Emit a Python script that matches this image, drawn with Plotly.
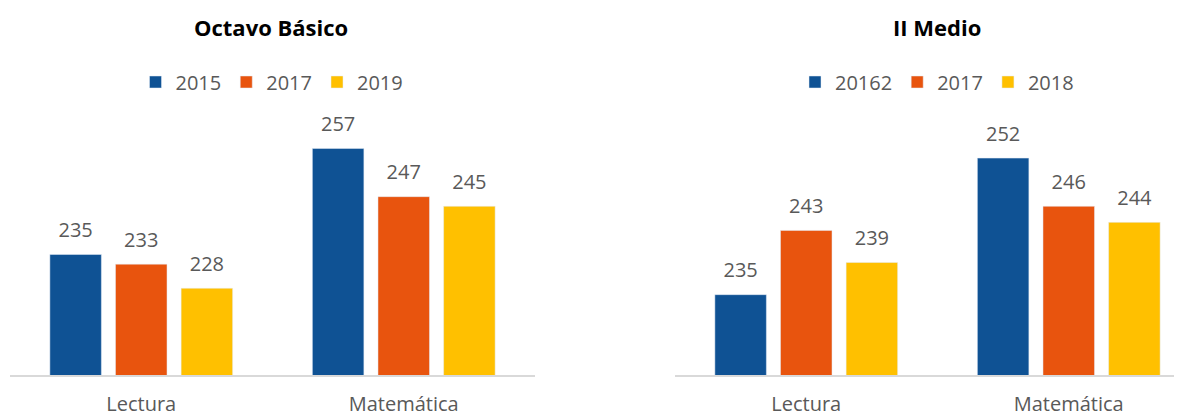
"""
Puntajes SIMCE: Octavo Básico y II Medio
"""
import plotly.graph_objects as go

W, H = 1182, 415

categorias = ['Lectura', 'Matemática']
colores = ['#0F5294', '#E8540E', '#FFC000']

# Octavo Básico
anios_8b = ['2015', '2017', '2019']
valores_8b = [[235, 257], [233, 247], [228, 245]]

# II Medio
anios_2m = ['20162', '2017', '2018']
valores_2m = [[235, 252], [243, 246], [239, 244]]

FUENTE = 'Open Sans'
GRIS = '#595959'

fig = go.Figure()


def agregar_panel(anios, valores, xa, ya, ley):
    for i, anio in enumerate(anios):
        fig.add_trace(go.Bar(
            x=categorias, y=valores[i], name=anio,
            marker_color=colores[i], xaxis=xa, yaxis=ya, legend=ley,
            offsetgroup=str(i),
        ))
        # etiquetas de datos como texto sobre cada barra
        fig.add_trace(go.Scatter(
            x=categorias, y=valores[i], mode='markers+text',
            text=[str(v) for v in valores[i]], textposition='top center',
            textfont=dict(size=20, color=GRIS, family=FUENTE),
            marker=dict(size=18, opacity=0), cliponaxis=False,
            offsetgroup=str(i), xaxis=xa, yaxis=ya,
            showlegend=False, hoverinfo='skip',
        ))


agregar_panel(anios_8b, valores_8b, 'x', 'y', 'legend')
agregar_panel(anios_2m, valores_2m, 'x2', 'y2', 'legend2')

# la pagina agrega 8 px de margen: posiciones en px de la figura
y_dom = [(H - 367) / H, (H - 126) / H]
eje_x = dict(showline=True, linecolor='#D9D9D9', linewidth=2, ticks='',
             showgrid=False, ticklabelstandoff=10,
             tickfont=dict(size=20, color=GRIS, family=FUENTE))
eje_y = dict(visible=False, showgrid=False, domain=y_dom)

leyenda = dict(orientation='h', xanchor='center', yanchor='middle',
               y=1 - 74 / H, font=dict(size=20, color=GRIS, family=FUENTE),
               bgcolor='rgba(0,0,0,0)')

titulo = dict(xref='paper', yref='paper', showarrow=False,
              xanchor='center', yanchor='middle', y=1 - 19 / H,
              font=dict(size=22, color='black', family=FUENTE))

fig.update_layout(
    width=W, height=H,
    margin=dict(t=0, b=0, l=0, r=0),
    paper_bgcolor='white', plot_bgcolor='white',
    barmode='group', bargap=0.25, bargroupgap=0.215,
    scattermode='group', scattergap=0.25,
    xaxis=dict(eje_x, domain=[2 / W, 527 / W], range=[-0.5, 1.5]),
    xaxis2=dict(eje_x, domain=[667 / W, 1.0], anchor='y2',
                range=[-0.5, -0.5 + 515 / 262.5]),
    yaxis=dict(eje_y, range=[210, 260]),
    yaxis2=dict(eje_y, range=[225, 255], anchor='x2'),
    legend=dict(leyenda, x=264 / W),
    legend2=dict(leyenda, x=929 / W),
    annotations=[
        dict(titulo, text='<b>Octavo Básico</b>', x=263 / W),
        dict(titulo, text='<b>II Medio</b>', x=929 / W),
    ],
)

fig.write_html('out.html')
